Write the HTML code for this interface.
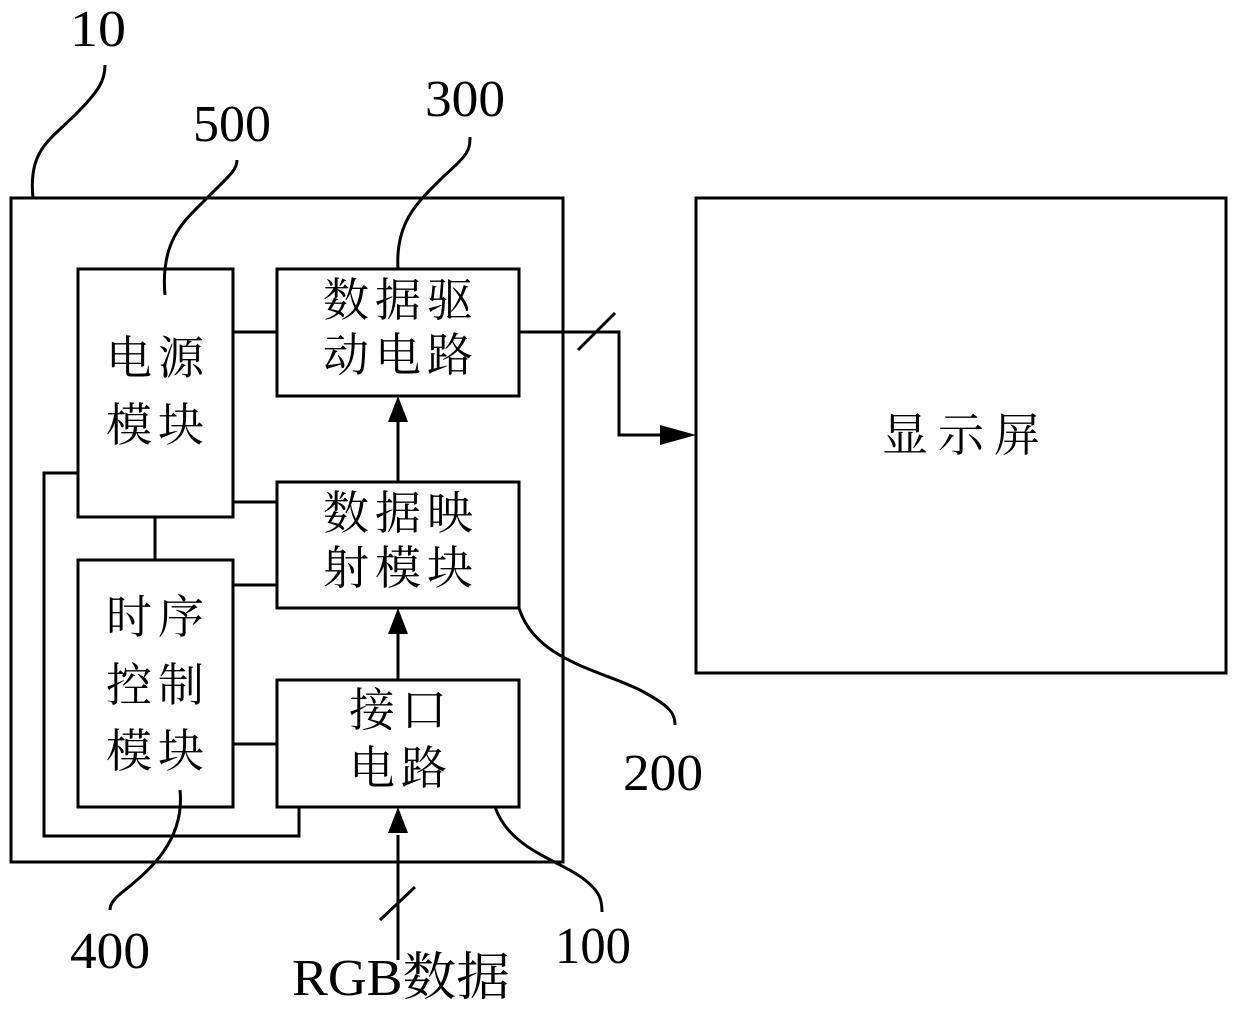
<!DOCTYPE html>
<html><head><meta charset="utf-8"><style>
body{margin:0;background:#fff}
svg{display:block}
text{font-family:"Liberation Serif","Noto Serif CJK SC",serif;fill:#000}
</style></head><body>
<svg width="1240" height="1015" viewBox="0 0 1240 1015" xmlns="http://www.w3.org/2000/svg">
<g fill="none" stroke="#000" stroke-width="3">
<rect x="11" y="198" width="552" height="664"/>
<rect x="78" y="269" width="155" height="248"/>
<rect x="277" y="269" width="242" height="127"/>
<rect x="277" y="482" width="242" height="126"/>
<rect x="78" y="560" width="155" height="247"/>
<rect x="277" y="680" width="242" height="127"/>
<rect x="696" y="198" width="530" height="475"/>
<path d="M233 332H277M233 502H277M233 585H277M233 744H277M155 517V560"/>
<path d="M78 473H44V836H299V807"/>
<path d="M519 332H619V435H665"/>
<path d="M578 350L615 313"/>
<path d="M398 482V420M398 680V632M398 960V835"/>
<path d="M380 920L415 887"/>
</g>
<g fill="#000">
<polygon points="398,396 388,422 408,422"/>
<polygon points="398,608 388,634 408,634"/>
<polygon points="398,807 388,833 408,833"/>
<polygon points="696,435 660,425 660,445"/>
</g>
<g fill="none" stroke="#000" stroke-width="3">
<path d="M33 198C28 150 50 140 75 115C100 90 105 80 105 65"/>
<path d="M165 295C160 240 185 220 205 200C230 175 237 170 237 160"/>
<path d="M398 269C395 220 420 200 445 175C468 155 470 150 470 137"/>
<path d="M519 608C535 660 600 670 640 690C668 705 675 712 675 725"/>
<path d="M495 807C510 850 560 860 585 880C600 892 602 900 602 912"/>
<path d="M180 790C185 840 150 870 125 890C112 900 110 905 110 910"/>
</g>
<g font-size="52">
<text x="70" y="46" textLength="56" lengthAdjust="spacingAndGlyphs">10</text>
<text x="193" y="141" textLength="78" lengthAdjust="spacingAndGlyphs">500</text>
<text x="425" y="116" textLength="80" lengthAdjust="spacingAndGlyphs">300</text>
<text x="623" y="790" textLength="80" lengthAdjust="spacingAndGlyphs">200</text>
<text x="555" y="963" textLength="76" lengthAdjust="spacingAndGlyphs">100</text>
<text x="70" y="968" textLength="80" lengthAdjust="spacingAndGlyphs">400</text>
<text x="292" y="995" textLength="218" lengthAdjust="spacingAndGlyphs">RGB数据</text>
</g>
<g font-size="46" text-anchor="middle" letter-spacing="6">
<text x="158" y="374">电源</text>
<text x="158" y="441">模块</text>
<text x="401" y="316">数据驱</text>
<text x="401" y="371">动电路</text>
<text x="401" y="529">数据映</text>
<text x="401" y="584">射模块</text>
<text x="158" y="633">时序</text>
<text x="158" y="701">控制</text>
<text x="158" y="767">模块</text>
<text x="401" y="726">接口</text>
<text x="401" y="784">电路</text>
<text x="966" y="451" letter-spacing="10">显示屏</text>
</g>
</svg>
</body></html>
